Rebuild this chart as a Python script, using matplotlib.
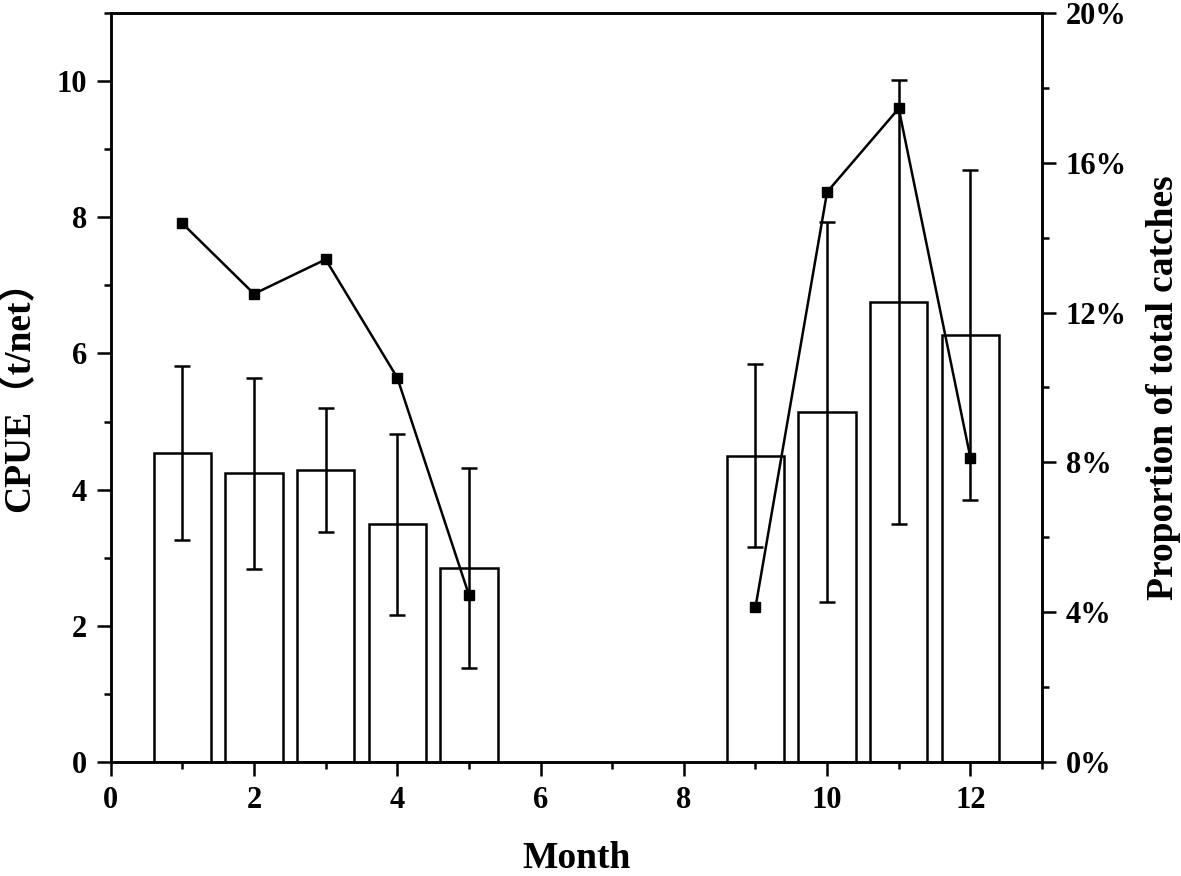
import numpy as np
import matplotlib
matplotlib.use('Agg')
import matplotlib.pyplot as plt
from matplotlib.ticker import MultipleLocator, FuncFormatter

plt.rcParams['font.family'] = ['Liberation Serif', 'Noto Sans CJK SC']
plt.rcParams['font.weight'] = 'bold'

months = [1, 2, 3, 4, 5, 9, 10, 11, 12]
cpue = [4.54, 4.24, 4.29, 3.49, 2.85, 4.50, 5.14, 6.76, 6.27]
cpue_err = [1.28, 1.40, 0.91, 1.33, 1.47, 1.34, 2.79, 3.26, 2.42]
proportion = [14.38, 12.50, 13.42, 10.26, 4.46, 4.13, 15.22, 17.45, 8.13]

fig = plt.figure(figsize=(11.81, 8.76), dpi=100)
ax = fig.add_axes([0.0938, 0.1301, 0.8823 - 0.0938, 0.9852 - 0.1301])

ax.bar(months, cpue, width=0.8, color='white', edgecolor='black', linewidth=1.8, zorder=2)
ax.errorbar(months, cpue, yerr=cpue_err, fmt='none', ecolor='black',
            elinewidth=1.8, capsize=6, capthick=1.8, zorder=3)

ax.set_xlim(0, 13)
ax.set_ylim(0, 11)
ax.xaxis.set_major_locator(MultipleLocator(2))
ax.xaxis.set_minor_locator(MultipleLocator(1))
ax.yaxis.set_major_locator(MultipleLocator(2))
ax.yaxis.set_minor_locator(MultipleLocator(1))
ax.set_xlabel('Month', fontsize=27, fontweight='bold', labelpad=19)
ax.set_ylabel('CPUE（t/net）', fontsize=27, fontweight='bold', labelpad=14)

# proportion line on the right axis, broken over the gap months
ax2 = ax.twinx()
ax2.plot(months[:5], proportion[:5], color='black', lw=1.8, marker='s', ms=6.5)
ax2.plot(months[5:], proportion[5:], color='black', lw=1.8, marker='s', ms=6.5)
ax2.set_ylim(0, 20)
ax2.yaxis.set_major_locator(MultipleLocator(4))
ax2.yaxis.set_minor_locator(MultipleLocator(2))
ax2.yaxis.set_major_formatter(FuncFormatter(lambda v, p: '%d%%' % round(v)))
ax2.set_ylabel('Proportion of total catches', fontsize=27, fontweight='bold',
               labelpad=14, rotation=90)

for a in (ax, ax2):
    for s in a.spines.values():
        s.set_linewidth(1.8)
    a.tick_params(which='major', direction='out', length=10, width=1.8, labelsize=22, pad=7)
    a.tick_params(which='minor', direction='out', length=5, width=1.8)
    for lab in a.get_xticklabels() + a.get_yticklabels():
        lab.set_fontweight('bold')
ax.tick_params(top=False, right=False, which='both')
ax2.tick_params(which='both', left=False)

fig.savefig('out.png', dpi=100)
